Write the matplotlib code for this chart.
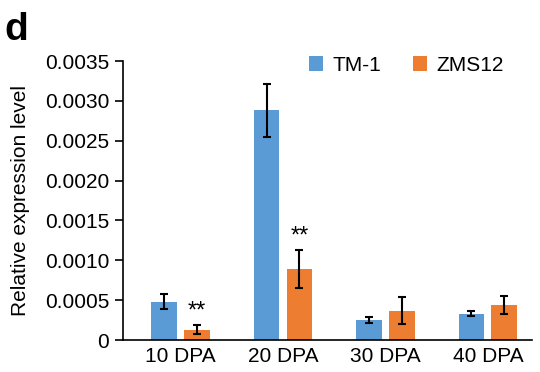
import matplotlib
matplotlib.use("Agg")
import matplotlib.pyplot as plt
import numpy as np

categories = ["10 DPA", "20 DPA", "30 DPA", "40 DPA"]
series_names = ["TM-1", "ZMS12"]
tm1_values = [0.00048, 0.00288, 0.00025, 0.00033]
tm1_errors = [0.000097, 0.00033, 0.000035, 0.000035]
zms_values = [0.00013, 0.00089, 0.00037, 0.00044]
zms_errors = [0.00006, 0.00024, 0.00017, 0.00011]
significance = ["**", "**", "", ""]
yticks = [0, 0.0005, 0.0010, 0.0015, 0.0020, 0.0025, 0.0030, 0.0035]
ytick_labels = ["0", "0.0005", "0.0010", "0.0015", "0.0020", "0.0025", "0.0030", "0.0035"]

plt.rcParams['font.family'] = ['Liberation Sans', 'DejaVu Sans']

fig = plt.figure(figsize=(5.4, 3.72), dpi=100)
ax = fig.add_axes([0.228, 0.086, 0.757, 0.750])

x = np.arange(len(categories))
w = 0.25
off = 0.16
blue = "#5B9BD5"
orange = "#ED7D31"
ekw = dict(elinewidth=1.5, capthick=1.5, ecolor="black")
ax.bar(x - off, tm1_values, w, yerr=tm1_errors, color=blue, capsize=3,
       error_kw=ekw, label=series_names[0])
ax.bar(x + off, zms_values, w, yerr=zms_errors, color=orange, capsize=3,
       error_kw=ekw, label=series_names[1])

for i, s in enumerate(significance):
    if s:
        ax.text(x[i] + off, zms_values[i] + zms_errors[i] + 0.00003, s,
                ha="center", va="bottom", fontsize=17)

fs = 15
ax.set_xlim(-0.56, 3.43)
ax.set_ylim(0, 0.0035)
ax.set_xticks(x)
ax.set_xticklabels(categories, fontsize=fs)
ax.set_yticks(yticks)
ax.set_yticklabels(ytick_labels, fontsize=fs)
ax.tick_params(axis="x", length=0, pad=5)
ax.tick_params(axis="y", length=6, width=1.2, direction="out", pad=4)
for sp in ["top", "right"]:
    ax.spines[sp].set_visible(False)
for sp in ["left", "bottom"]:
    ax.spines[sp].set_linewidth(1.2)
ax.set_ylabel("Relative expression level", fontsize=fs, labelpad=11)

ax.legend(loc="upper right", bbox_to_anchor=(0.978, 1.085), ncol=2, frameon=False,
          fontsize=fs, handlelength=0.7, handleheight=0.7, columnspacing=1.5,
          handletextpad=0.45)

fig.text(0.008, 0.968, "d", fontsize=28, fontweight="bold", va="top", ha="left")

fig.savefig("out.png", dpi=100)
